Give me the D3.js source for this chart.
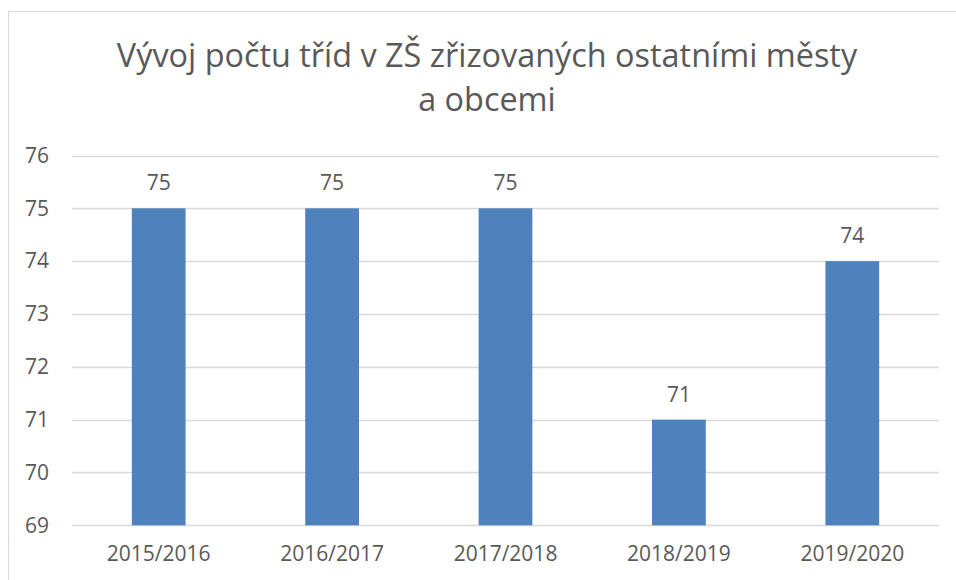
<!DOCTYPE html>
<html>
<head>
<meta charset="utf-8">
<script src="https://cdn.jsdelivr.net/npm/d3@7"></script>
<style>
  body { margin: 0; background: #fff; }
  text { font-family: "Open Sans", "Noto Sans", sans-serif; fill: #595959; }
</style>
</head>
<body>
<script>
var titleLines = ["Vývoj počtu tříd v ZŠ zřizovaných ostatními městy", "a obcemi"];
var years = ["2015/2016", "2016/2017", "2017/2018", "2018/2019", "2019/2020"];
var classes = [75, 75, 75, 71, 74];
var yTicks = [69, 70, 71, 72, 73, 74, 75, 76];

var width = 956, height = 580;
var margin = {top: 155.5, right: 17, bottom: 55, left: 72};
var labelSize = 21;

var svg = d3.select("body").append("svg")
    .attr("width", width)
    .attr("height", height);

// chart frame (right and bottom edges fall outside the picture)
svg.append("rect")
    .attr("x", 8.5).attr("y", 11.5)
    .attr("width", 1000).attr("height", 1000)
    .attr("fill", "none")
    .attr("stroke", "#d9d9d9");

var x = d3.scaleBand()
    .domain(years)
    .range([margin.left, width - margin.right])
    .paddingInner(0.69)
    .paddingOuter(0.345);

var y = d3.scaleLinear()
    .domain([69, 76])
    .range([height - margin.bottom + 0.3, margin.top]);

// gridlines
svg.append("g")
    .selectAll("line")
    .data(yTicks)
    .enter()
    .append("line")
    .attr("x1", margin.left)
    .attr("x2", width - margin.right)
    .attr("y1", function(d) { return Math.round(y(d)) + 0.5; })
    .attr("y2", function(d) { return Math.round(y(d)) + 0.5; })
    .attr("stroke", "#d9d9d9")
    .attr("stroke-width", 1.5);

// y tick labels
var yAxis = d3.axisLeft(y).tickValues(yTicks).tickFormat(d3.format("d"))
    .tickSize(0).tickPadding(23);
svg.append("g")
    .attr("transform", "translate(" + margin.left + ",0)")
    .call(yAxis)
    .call(function(g) { g.select(".domain").remove(); })
    .selectAll("text")
    .attr("font-size", labelSize)
    .style("font-family", "'Open Sans', sans-serif")
    .attr("fill", "#595959");

// x tick labels
var xAxis = d3.axisBottom(x).tickSize(0).tickPadding(21);
svg.append("g")
    .attr("transform", "translate(0," + y(69) + ")")
    .call(xAxis)
    .call(function(g) { g.select(".domain").remove(); })
    .selectAll("text")
    .attr("font-size", labelSize)
    .style("font-family", "'Open Sans', sans-serif")
    .attr("fill", "#595959");

// bars
svg.append("g")
    .selectAll("rect")
    .data(classes)
    .enter()
    .append("rect")
    .attr("x", function(d, i) { return x(years[i]); })
    .attr("y", function(d) { return y(d); })
    .attr("width", x.bandwidth())
    .attr("height", function(d) { return y(69) - y(d); })
    .attr("fill", "#4f81bd");

// value labels
svg.append("g")
    .selectAll("text")
    .data(classes)
    .enter()
    .append("text")
    .attr("x", function(d, i) { return x(years[i]) + x.bandwidth() / 2; })
    .attr("y", function(d) { return y(d) - 18; })
    .attr("text-anchor", "middle")
    .attr("font-size", labelSize)
    .text(function(d) { return d; });

// title
svg.append("g")
    .selectAll("text")
    .data(titleLines)
    .enter()
    .append("text")
    .attr("x", 487)
    .attr("y", function(d, i) { return 67 + i * 44; })
    .attr("text-anchor", "middle")
    .attr("font-size", 32.4)
    .text(function(d) { return d; });
</script>
</body>
</html>
